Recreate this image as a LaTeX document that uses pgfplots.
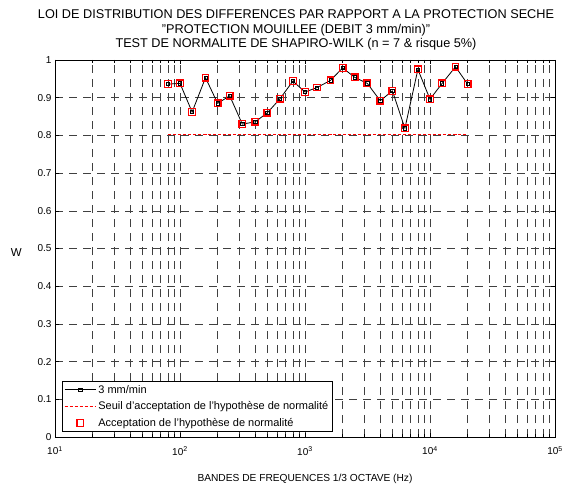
\documentclass[border=0pt]{standalone}
\usepackage{pgfplots}
\pgfplotsset{compat=1.18}
\usepackage{fontspec}
\setmainfont{Liberation Sans}
\usetikzlibrary{calc}
\begin{document}
\begin{tikzpicture}
\begin{axis}[
  scale only axis,
  width=500pt, height=377pt,
  xmode=log, xmin=10, xmax=100000,
  ymin=0, ymax=1,
  ytick={0,0.1,0.2,0.3,0.4,0.5,0.6,0.7,0.8,0.9,1},
  yticklabels={0,0.1,0.2,0.3,0.4,0.5,0.6,0.7,0.8,0.9,1},
  xtick={10,100,1000,10000,100000},
  xticklabels={10\textsuperscript{1},10\textsuperscript{2},10\textsuperscript{3},10\textsuperscript{4},10\textsuperscript{5}},
  tick align=inside,
  major tick length=4pt, minor tick length=3pt,
  tick style={black, line width=0.5pt},
  ticklabel style={font=\fontsize{10}{11}\selectfont},
  xticklabel style={yshift=-6pt},
  grid=both,
  minor y tick num=0,
  major grid style={black!75, line width=0.5pt, dash pattern=on 8pt off 6pt},
  minor grid style={black!75, line width=0.5pt, dash pattern=on 8pt off 6pt},
  axis line style={black, line width=0.6pt},
  title style={align=center, font=\fontsize{12.7}{14.5}\selectfont, yshift=0pt, xshift=-9pt},
  title={LOI DE DISTRIBUTION DES DIFFERENCES PAR RAPPORT A LA PROTECTION SECHE\\"PROTECTION MOUILLEE (DEBIT 3 mm/min)"\\TEST DE NORMALITE DE SHAPIRO-WILK (n = 7 \& risque 5\%)},
  xlabel={BANDES DE FREQUENCES 1/3 OCTAVE (Hz)},
  xlabel style={font=\fontsize{10.2}{11}\selectfont, yshift=-12pt},
  ylabel={W},
  ylabel style={font=\fontsize{11.5}{12}\selectfont, rotate=-90, yshift=-4pt, xshift=-9pt},
  legend style={at={(0,0)}, anchor=south west, xshift=7pt, yshift=5pt,
    font=\fontsize{11}{12.6}\selectfont, draw=black, line width=0.6pt, fill=white,
    cells={anchor=west}, row sep=3pt, inner sep=2pt},
  legend image code/.code={\draw[mark repeat=2,mark phase=2,#1] plot coordinates {(0cm,0cm) (0.55cm,0cm) (1.1cm,0cm)};},
]
\addplot[black, line width=0.8pt, mark=square, mark size=1.6pt, mark options={solid, line width=0.6pt}] coordinates {
(80,0.936) (100,0.938) (125,0.862) (160,0.953) (200,0.885) (250,0.905) (315,0.830) (400,0.836) (500,0.860) (630,0.897) (800,0.944) (1000,0.915) (1250,0.927) (1600,0.946) (2000,0.979) (2500,0.954) (3150,0.938) (4000,0.892) (5000,0.918) (6300,0.819) (8000,0.975) (10000,0.896) (12500,0.938) (16000,0.982) (20000,0.936)
};
\addlegendentry{3 mm/min}
\addplot[red, line width=0.8pt, dash pattern=on 3pt off 2pt] coordinates {
(80,0.803) (100,0.803) (125,0.803) (160,0.803) (200,0.803) (250,0.803) (315,0.803) (400,0.803) (500,0.803) (630,0.803) (800,0.803) (1000,0.803) (1250,0.803) (1600,0.803) (2000,0.803) (2500,0.803) (3150,0.803) (4000,0.803) (5000,0.803) (6300,0.803) (8000,0.803) (10000,0.803) (12500,0.803) (16000,0.803) (20000,0.803)
};
\addlegendentry{Seuil d'acceptation de l'hypothèse de normalité}
\addplot[red, only marks, mark=square, mark size=3.3pt, mark options={solid, line width=1.3pt}] coordinates {
(80,0.936) (100,0.938) (125,0.862) (160,0.953) (200,0.885) (250,0.905) (315,0.830) (400,0.836) (500,0.860) (630,0.897) (800,0.944) (1000,0.915) (1250,0.927) (1600,0.946) (2000,0.979) (2500,0.954) (3150,0.938) (4000,0.892) (5000,0.918) (6300,0.819) (8000,0.975) (10000,0.896) (12500,0.938) (16000,0.982) (20000,0.936)
};
\addlegendentry{Acceptation de l'hypothèse de normalité}
\end{axis}
\path[use as bounding box] ($(current axis.south west)+(-55pt,-48pt)$) rectangle ($(current axis.north east)+(15pt,60pt)$);
\end{tikzpicture}
\end{document}
